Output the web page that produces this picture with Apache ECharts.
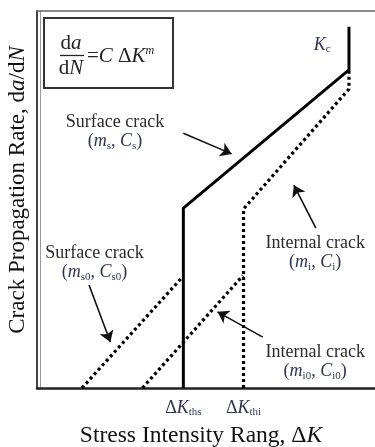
<!DOCTYPE html>
<html><head><meta charset="utf-8">
<script src="https://cdn.jsdelivr.net/npm/echarts@6/dist/echarts.min.js"></script>
<style>html,body{margin:0;padding:0;background:#fff}#c{width:375px;height:447px}</style>
</head><body><div id="c"></div>
<script>
// Schematic (normalized log scales 0–100): log ΔK vs log da/dN
const surfaceX   = [43.3, 43.3, 92.3, 92.3];
const surfaceY   = [0, 47.7, 84.4, 95.8];
const internalX  = [61.1, 61.1, 92.3, 92.3];
const internalY  = [0, 47.5, 79.3, 84.4];
const surface0X  = [13.3, 43.0];
const surface0Y  = [0, 29.4];
const internal0X = [31.2, 60.9];
const internal0Y = [0, 29.8];
const thresholdX   = [43.3, 61.1];
const thresholdSub = ['ths', 'thi'];

const serif = '"Liberation Serif", "Times New Roman", serif';
const ink = '#2a2a2a';
const mathInk = '#2c3654';
const rich = {
  t: {fontFamily: serif, fontSize: 18, color: ink, lineHeight: 19.5},
  p: {fontFamily: serif, fontSize: 18, color: mathInk, lineHeight: 19.5},
  i: {fontFamily: serif, fontSize: 18, fontStyle: 'italic', color: mathInk, lineHeight: 19.5},
  s: {fontFamily: serif, fontSize: 11, color: mathInk, lineHeight: 11, verticalAlign: 'bottom'}
};

// annotation layout (anchor in axis units)
const annotations = [
  {x: 23.1, y: 68.0, text: '{t|Surface crack}\n{p|(}{i|m}{s|s}{p|, }{i|C}{s|s}{p|)}'},
  {x: 82.3, y: 35.9, text: '{t|Internal crack}\n{p|(}{i|m}{s|i}{p|, }{i|C}{s|i}{p|)}'},
  {x: 17.0, y: 33.2, text: '{t|Surface crack}\n{p|(}{i|m}{s|s0}{p|, }{i|C}{s|s0}{p|)}'},
  {x: 82.3, y: 6.9,  text: '{t|Internal crack}\n{p|(}{i|m}{s|i0}{p|, }{i|C}{s|i0}{p|)}'},
  {x: 84.4, y: 91.0, text: '{i|K}{s|c}'}
];
const arrows = [
  [[43.3, 67.6], [57.6, 62.1]],
  [[82.5, 42.4], [76.0, 53.8]],
  [[15.4, 27.3], [21.7, 12.2]],
  [[66.8, 13.5], [53.4, 20.2]]
];

const zip = (xs, ys) => xs.map((x, k) => [x, ys[k]]);
const dotted = {color: '#000', width: 3.2, type: [3, 3], cap: 'butt'};

const chart = echarts.init(document.getElementById('c'), null, {renderer: 'canvas'});
chart.setOption({
  animation: false,
  grid: {left: 37, right: 0, top: 11, bottom: 59, containLabel: false, outerBoundsMode: 'none'},
  xAxis: [{
    type: 'value', min: 0, max: 100, position: 'bottom',
    splitLine: {show: false}, axisTick: {show: false},
    axisLine: {show: true, onZero: false, lineStyle: {color: '#222', width: 2.5}},
    axisLabel: {
      show: true, customValues: thresholdX, margin: 10,
      formatter: v => '{d|Δ}{k|K}{s|' + thresholdSub[thresholdX.indexOf(v)] + '}',
      rich: {
        d: {fontFamily: serif, fontSize: 18, color: mathInk, lineHeight: 20},
        k: {fontFamily: serif, fontSize: 18, fontStyle: 'italic', color: mathInk, lineHeight: 20},
        s: {fontFamily: serif, fontSize: 11, color: mathInk, lineHeight: 11, verticalAlign: 'bottom'}
      }
    },
    name: '{n|Stress Intensity Rang, Δ}{k|K}', nameLocation: 'middle', nameGap: 36,
    nameTextStyle: {
      padding: [0, 10, 0, 0],
      rich: {
        n: {fontFamily: serif, fontSize: 23.5, color: '#111'},
        k: {fontFamily: serif, fontSize: 23.5, fontStyle: 'italic', color: '#111'}
      }
    }
  }, {
    type: 'value', min: 0, max: 100, position: 'top',
    splitLine: {show: false}, axisTick: {show: false}, axisLabel: {show: false},
    axisLine: {show: true, onZero: false, lineStyle: {color: '#666', width: 1.5}}
  }],
  yAxis: [{
    type: 'value', min: 0, max: 100,
    splitLine: {show: false}, axisTick: {show: false}, axisLabel: {show: false},
    axisLine: {show: true, onZero: false, lineStyle: {color: '#444', width: 2}},
    name: '{n|Crack Propagation Rate, d}{i|a}{n|/d}{i|N}', nameLocation: 'middle', nameGap: 8,
    nameTextStyle: {
      padding: [0, 0, 0, 19],
      rich: {
        n: {fontFamily: serif, fontSize: 23, color: '#111'},
        i: {fontFamily: serif, fontSize: 23, fontStyle: 'italic', color: '#111'}
      }
    }
  }, {
    type: 'value', min: 0, max: 100, position: 'left', offset: -3,
    splitLine: {show: false}, axisTick: {show: false}, axisLabel: {show: false},
    axisLine: {show: true, onZero: false, lineStyle: {color: '#999', width: 1}}
  }],
  series: [
    {type: 'line', data: zip(surfaceX, surfaceY), symbol: 'none',
     lineStyle: {color: '#000', width: 3, join: 'miter'}},
    {type: 'line', data: zip(internalX, internalY), symbol: 'none', lineStyle: dotted},
    {type: 'line', data: zip(surface0X, surface0Y), symbol: 'none', lineStyle: dotted},
    {type: 'line', data: zip(internal0X, internal0Y), symbol: 'none', lineStyle: dotted},
    {type: 'scatter', symbolSize: 1, itemStyle: {color: 'rgba(0,0,0,0)'}, silent: true,
     data: annotations.map(a => ({value: [a.x, a.y], label: {formatter: a.text}})),
     label: {show: true, position: 'inside', align: 'center', verticalAlign: 'middle',
             color: ink, textBorderWidth: 0, opacity: 1, rich: rich},
     markLine: {
       silent: true, symbol: ['none', 'arrow'], symbolSize: 11, precision: 4,
       label: {show: false},
       lineStyle: {color: '#111', width: 1.6, type: 'solid'},
       emphasis: {disabled: true},
       data: arrows.map(a => [{coord: a[0]}, {coord: a[1]}])
     }}
  ],
  graphic: [
    {type: 'rect', shape: {x: 44, y: 18, width: 129, height: 70}, style: {fill: 'none', stroke: '#333', lineWidth: 2}},
    {type: 'text', x: 71, y: 43, style: {text: '{n|d}{i|a}', align: 'center', verticalAlign: 'middle',
      rich: {n: {fontFamily: serif, fontSize: 21, fill: '#222'}, i: {fontFamily: serif, fontSize: 21, fontStyle: 'italic', fill: '#222'}}}},
    {type: 'line', shape: {x1: 60, y1: 55.5, x2: 84, y2: 55.5}, style: {stroke: '#222', lineWidth: 1.3}},
    {type: 'text', x: 71, y: 68, style: {text: '{n|d}{i|N}', align: 'center', verticalAlign: 'middle',
      rich: {n: {fontFamily: serif, fontSize: 21, fill: '#222'}, i: {fontFamily: serif, fontSize: 21, fontStyle: 'italic', fill: '#222'}}}},
    {type: 'text', x: 87, y: 56, style: {text: '{n|=}{i|C}{n| Δ}{i|K}{u|m}', align: 'left', verticalAlign: 'middle',
      rich: {
        n: {fontFamily: serif, fontSize: 21, fill: '#222', lineHeight: 22},
        i: {fontFamily: serif, fontSize: 21, fontStyle: 'italic', fill: '#222', lineHeight: 22},
        u: {fontFamily: serif, fontSize: 12, fontStyle: 'italic', fill: '#222', lineHeight: 12, verticalAlign: 'top'}
      }}}
  ]
});
</script></body></html>
